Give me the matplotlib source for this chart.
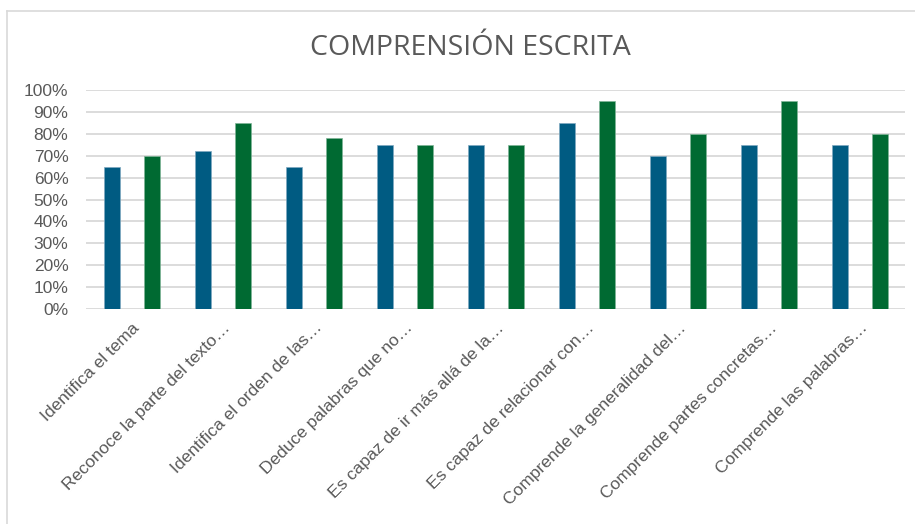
import matplotlib.pyplot as plt
import numpy as np
from matplotlib.ticker import PercentFormatter

# items evaluated in the written comprehension test
categories = [
    "Identifica el tema",
    "Reconoce la parte del texto…",
    "Identifica el orden de las…",
    "Deduce palabras que no…",
    "Es capaz de ir más allá de la…",
    "Es capaz de relacionar con…",
    "Comprende la generalidad del…",
    "Comprende partes concretas…",
    "Comprende las palabras…",
]
# two series per item (percent)
serie_1 = [65, 72, 65, 75, 75, 85, 70, 75, 75]
serie_2 = [70, 85, 78, 75, 75, 95, 80, 95, 80]

plt.rcParams['font.family'] = ['Liberation Sans', 'DejaVu Sans']
gray_text = '#595959'

fig = plt.figure(figsize=(9.15, 5.24), dpi=100)
ax = fig.add_axes([0.0945, 0.4103, 0.8951, 0.4179])

x = np.arange(len(categories))
w = 0.175
ax.bar(x - 0.22, serie_1, w, color='#005B82', edgecolor='#7FA9C0', linewidth=0.5, zorder=3)
ax.bar(x + 0.22, serie_2, w, color='#006A32', edgecolor='#7FB497', linewidth=0.5, zorder=3)

ax.set_xlim(-0.5, len(categories) - 0.5)
ax.set_ylim(0, 100)
ax.set_yticks(np.arange(0, 101, 10))
ax.yaxis.set_major_formatter(PercentFormatter(decimals=0))
ax.grid(axis='y', color='#D9D9D9', linewidth=1.3, zorder=0)
for s in ax.spines.values():
    s.set_visible(False)
ax.tick_params(axis='both', length=0, colors=gray_text, labelsize=12.5)
ax.tick_params(axis='y', pad=13)

ax.set_xticks(x)
ax.set_xticklabels(categories, rotation=45, ha='right', rotation_mode='anchor')
ax.tick_params(axis='x', pad=8)

fig.text(0.514, 0.908, "COMPRENSIÓN ESCRITA", ha='center', va='center',
         fontsize=20.5, color=gray_text, family=['Open Sans', 'DejaVu Sans'])

# outer chart frame
fig.add_artist(plt.Line2D([0.0077, 0.0077], [0, 0.979], color='#D9D9D9', linewidth=1.2))
fig.add_artist(plt.Line2D([0.0077, 1], [0.979, 0.979], color='#D9D9D9', linewidth=1.2))

fig.savefig('out.png', dpi=100, facecolor='white')
